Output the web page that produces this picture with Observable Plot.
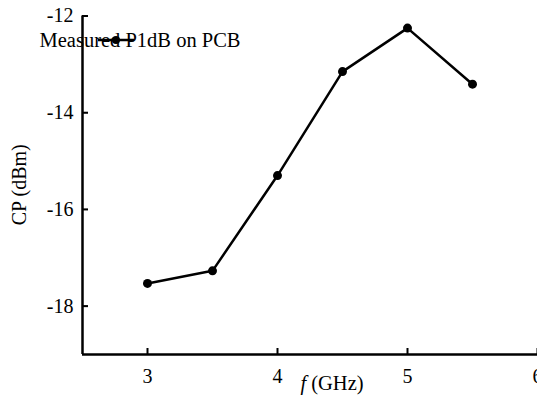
<!DOCTYPE html>
<html><head><meta charset="utf-8">
<script src="https://cdn.jsdelivr.net/npm/d3@7"></script>
<script src="https://cdn.jsdelivr.net/npm/@observablehq/plot@0.6"></script>
<style>
body{margin:0;background:#fff;}
#wrap{position:relative;width:537px;height:408px;}
</style></head>
<body><div id="wrap"><div id="chart"></div></div>
<script>
const freq = [3, 3.5, 4, 4.5, 5, 5.5];
const cp = [-17.53, -17.27, -15.3, -13.15, -12.25, -13.41];
const xTicks = [3, 4, 5, 6];
const yTicks = [-18, -16, -14, -12];
const seriesName = "Measured P1dB on PCB";
const data = freq.map((f, i) => ({f, cp: cp[i]}));
const FONT = "Liberation Serif";

const chart = Plot.plot({
  width: 537, height: 408,
  marginLeft: 82, marginRight: 0, marginTop: 15.5, marginBottom: 54,
  style: {fontFamily: FONT, fontSize: "20px", color: "#000", background: "#fff"},
  x: {domain: [2.5, 6]},
  y: {domain: [-19, -12]},
  marks: [
    Plot.axisX({ticks: xTicks, tickSize: -6, strokeWidth: 2, label: null, tickFormat: () => ""}),
    Plot.axisX({ticks: xTicks, tickSize: -6, tickPadding: 20, label: null, fontFamily: FONT, fontSize: 20, tickFormat: d => String(d)}),
    Plot.axisY({ticks: yTicks, tickSize: -6, strokeWidth: 2, label: null, tickFormat: () => ""}),
    Plot.axisY({ticks: yTicks, tickSize: -6, tickPadding: 15, label: null, fontFamily: FONT, fontSize: 20, tickFormat: d => "-" + String(Math.abs(d))}),
    Plot.ruleX([2.5], {strokeWidth: 2.5}),
    Plot.ruleY([-19], {strokeWidth: 2.5}),
    Plot.line(data, {x: "f", y: "cp", stroke: "#000", strokeWidth: 2.5}),
    Plot.dot(data, {x: "f", y: "cp", r: 4.5, fill: "#000"})
  ]
});
document.getElementById("chart").appendChild(chart);

const svg = d3.select(chart);
// legend (inside the svg)
const lg = svg.append("g").attr("transform", "translate(98,40)");
lg.append("line").attr("x1", 0).attr("x2", 36).attr("y1", 0).attr("y2", 0).attr("stroke", "#000").attr("stroke-width", 2.5);
lg.append("circle").attr("cx", 18).attr("cy", 0).attr("r", 4).attr("fill", "#000");
lg.append("text").attr("x", 42).attr("y", 7).attr("font-family", FONT).attr("font-size", 20.5).text(seriesName);
// axis labels
svg.append("text")
  .attr("transform", `translate(26,${(15.5 + 354) / 2}) rotate(-90)`)
  .attr("text-anchor", "middle")
  .attr("font-family", FONT)
  .attr("font-size", 20)
  .text("CP (dBm)");
const t = svg.append("text")
  .attr("x", 332).attr("y", 390)
  .attr("text-anchor", "middle")
  .attr("font-family", FONT)
  .attr("font-size", 20.5);
t.append("tspan").attr("font-style", "italic").text("f");
t.append("tspan").text(" (GHz)");
</script>
</body></html>
